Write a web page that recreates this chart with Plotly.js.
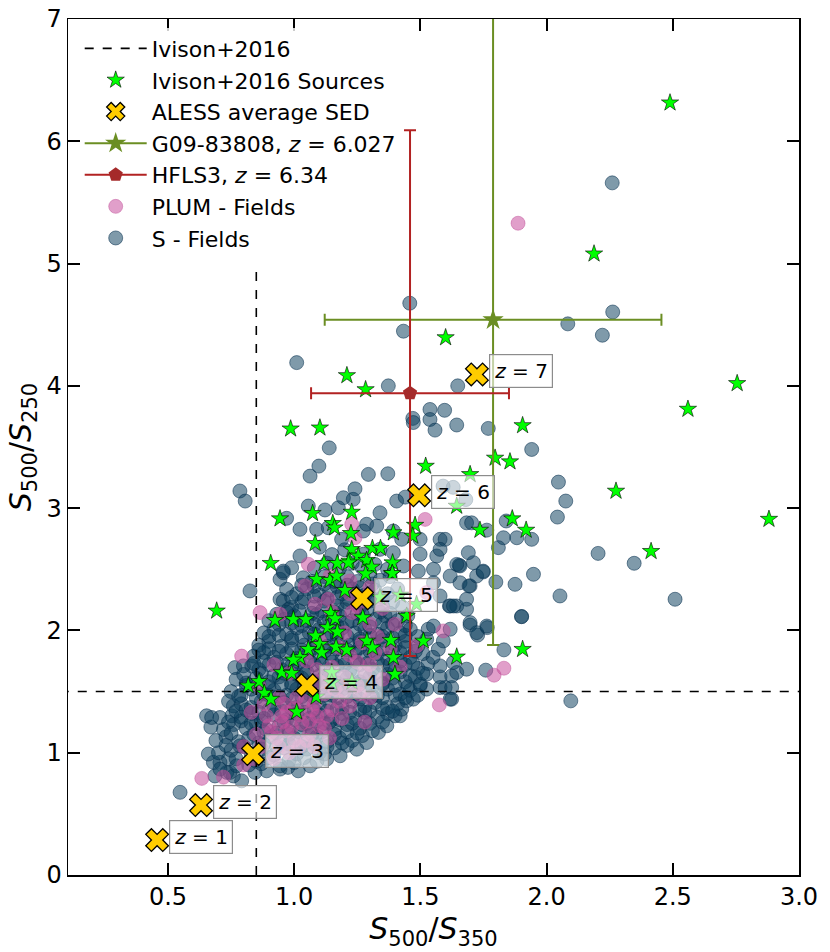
<!DOCTYPE html>
<html>
<head>
<meta charset="utf-8">
<script src="https://cdn.plot.ly/plotly-3.0.1.min.js"></script>
<style>html,body{margin:0;padding:0;background:#fff;}#chart{width:830px;height:952px;}</style>
</head>
<body>
<div id="chart"></div>
<script>
// ---------------- DATA ----------------
// Ivison+2016 colour cuts
const ivisonCutX = 0.85;      // S500/S350 threshold
const ivisonCutYmax = 5.0;    // vertical line top
const ivisonCutY = 1.5;       // S500/S250 threshold

// Ivison+2016 sources [S500/S350, S500/S250]
const ivisonSources = [
 [2.489,6.315],[2.188,5.08],[2.755,4.02],[2.56,3.81],[2.275,3.14],[2.414,2.647],[2.881,2.91],
 [1.905,3.676],[1.796,3.41],[1.855,3.38],[1.60,4.395],[1.209,4.085],[1.283,3.97],[0.986,3.649],
 [1.102,3.657],[1.521,3.344],[1.697,3.276],[1.644,3.017],[0.944,2.914],[1.073,2.958],[1.228,2.968],
 [1.153,2.876],[1.16,2.84],[1.225,2.794],[1.393,2.80],[1.479,2.861],[1.470,2.772],[1.736,2.821],
 [1.864,2.914],[1.919,2.821],[0.907,2.549],[1.083,2.712],[1.228,2.663],[1.310,2.672],[1.342,2.672],
 [1.118,2.549],[1.171,2.549],[1.219,2.568],[1.254,2.609],[1.287,2.574],[1.307,2.519],[1.283,2.464],
 [1.390,2.554],[1.388,2.464],[0.693,2.16],[1.905,1.846],[1.512,1.914],[1.446,2.118],[1.201,2.328],
 [1.644,1.784],[0.924,2.083],[0.997,2.09],[1.046,2.09],[1.133,2.024],[1.145,2.14],[1.162,2.097],
 [1.171,1.988],[1.085,1.955],[1.102,1.887],[1.056,1.846],[1.109,1.819],[1.166,1.865],[1.208,1.841],
 [1.023,1.779],[0.997,1.759],[0.951,1.656],[0.990,1.65],[0.861,1.583],[0.818,1.547],[0.882,1.487],
 [0.908,1.438],[1.010,1.334],[1.087,1.457],[1.149,1.656],[1.229,1.579],[1.272,2.105],[1.288,1.914],
 [1.310,1.859],[1.383,1.92],[1.393,1.779],[1.399,1.642],[1.089,2.418],[1.142,2.41],[1.168,2.445],
 [1.215,2.554],[1.34,2.27],[1.42,2.29],[1.485,2.214],[1.149,1.573],[1.389,2.467]
];

// ALESS average SED tracks
const alessZ = [1,2,3,4,5,6,7];
const alessX = [0.457,0.631,0.837,1.051,1.269,1.495,1.724];
const alessY = [0.286,0.572,0.989,1.552,2.263,3.105,4.093];

// G09-83808 (z = 6.027)
const g09 = {x:1.788, y:4.54, xerr:0.667, yerr:2.66};
// HFLS3 (z = 6.34)
const hfls3 = {x:1.459, y:3.94, xerr:0.392, yerr:2.15};

// PLUM fields
const plumFields = [
 [0.93,1.12],[0.97,1.18],[1.00,1.10],[1.03,1.24],[1.06,1.15],[1.09,1.30],[0.95,1.30],[1.00,1.36],
 [1.12,1.20],[1.15,1.35],[0.90,1.22],[1.04,1.42],[0.98,1.00],[1.08,1.05],[0.88,1.40],[1.18,1.42],
 [1.12,1.48],[1.02,1.05],[0.96,1.40],[1.07,1.35],[0.94,1.05],[1.10,1.58],[1.20,1.62],[1.25,1.55],
 [1.30,1.45],[1.15,1.70],[1.22,1.80],[1.30,1.72],[1.35,1.60],[1.05,1.75],[0.98,1.65],[0.92,1.72],
 [1.27,1.90],[1.33,1.95],[1.38,1.85],[1.20,1.98],[1.10,1.92],[1.15,2.15],[1.25,2.20],[1.35,2.18],
 [1.30,2.35],[1.221,2.405],[1.142,2.445],[1.043,2.364],[1.056,2.541],[1.083,2.214],[1.135,2.255],
 [1.228,2.146],[0.944,2.132],[0.865,2.146],[1.228,2.868],[1.241,2.758],[1.40,2.05],[1.525,2.31],
 [0.634,0.79],[0.72,0.80],[0.80,0.90],[0.84,0.95],[0.80,1.05],[0.85,1.15],[0.792,1.79],[0.83,1.33],
 [1.887,5.33],[1.519,2.908],[1.591,1.996],[1.575,1.391],[1.792,1.634],[1.831,1.691],[1.485,1.873],
 [1.42,1.70],[1.28,1.25],[0.86,1.55],[1.16,1.52],
 [0.91,1.17],[0.95,1.25],[0.99,1.21],[1.02,1.31],[1.06,1.26],[1.10,1.22],[1.13,1.30],[0.97,1.33],
 [1.01,1.45],[1.08,1.40],[0.94,1.45],[0.89,1.30],[1.05,1.10],[1.14,1.12],[1.19,1.28],[1.22,1.38],
 [1.26,1.48],[1.14,1.62],[1.20,1.50],[1.28,1.66],[1.09,1.68],[1.18,1.86],[1.25,1.74],[1.32,1.82],
 [1.30,2.05],[1.22,2.30],[0.87,1.05],[0.92,0.95]
];

// S fields
const sFields = [
 [0.548,0.676],
 [0.686,0.81],[0.733,0.839],[0.759,0.81],[0.792,0.77],[0.746,0.839],[0.845,0.839],[0.891,0.852],[0.944,0.866],[1.016,0.852],[0.975,0.88],
 [0.706,0.921],[0.680,0.921],[0.706,0.866],[0.772,0.893],[0.82,0.90],[0.87,0.91],[0.944,0.893],[1.063,0.893],[1.00,0.92],[1.129,0.948],[1.09,0.93],[0.74,0.95],
 [0.660,0.989],[0.70,1.00],[0.75,1.02],[0.785,1.056],[0.83,0.99],[0.87,1.03],[0.92,0.98],[0.96,1.04],[1.01,0.99],[1.05,1.03],[1.10,1.00],[1.182,0.975],[1.16,1.04],[1.248,1.029],[1.21,1.06],
 [0.69,1.10],[0.73,1.13],[0.78,1.09],[0.82,1.12],[0.86,1.08],[0.91,1.13],[0.95,1.09],[1.00,1.12],[1.04,1.08],[1.09,1.13],[1.13,1.09],[1.18,1.12],[1.23,1.10],[1.287,1.083],[1.27,1.14],
 [0.67,1.21],[0.72,1.19],[0.76,1.23],[0.81,1.20],[0.85,1.24],[0.89,1.19],[0.94,1.22],[0.98,1.18],[1.03,1.23],[1.07,1.20],[1.12,1.24],[1.16,1.19],[1.21,1.23],[1.26,1.20],[1.30,1.24],[1.334,1.166],[1.367,1.22],
 [0.653,1.302],[0.706,1.288],[0.673,1.288],[0.753,1.302],[0.79,1.29],[0.83,1.32],[0.88,1.28],[0.92,1.31],[0.97,1.27],[1.01,1.32],[1.06,1.28],[1.10,1.31],[1.15,1.27],[1.19,1.32],[1.24,1.28],[1.28,1.33],[1.33,1.29],[1.37,1.32],[1.400,1.302],[1.420,1.302],
 [0.759,1.383],[0.74,1.42],[0.79,1.40],[0.83,1.37],[0.87,1.42],[0.92,1.38],[0.96,1.41],[1.01,1.37],[1.05,1.42],[1.10,1.38],[1.14,1.41],[1.19,1.37],[1.23,1.42],[1.28,1.38],[1.32,1.41],[1.37,1.37],[1.41,1.40],[1.426,1.356],[1.446,1.424],[1.472,1.438],
 [0.75,1.50],[0.79,1.47],[0.83,1.52],[0.88,1.48],[0.92,1.51],[0.97,1.47],[1.01,1.52],[1.06,1.48],[1.10,1.51],[1.15,1.47],[1.19,1.52],[1.24,1.48],[1.28,1.51],[1.33,1.47],[1.37,1.52],[1.42,1.48],[1.46,1.51],[1.499,1.547],[1.525,1.52],[1.578,1.533],[1.598,1.533],[1.624,1.533],[1.624,1.438],[1.618,1.438],
 [0.77,1.60],[0.81,1.57],[0.85,1.61],[0.90,1.58],[0.94,1.62],[0.99,1.57],[1.03,1.61],[1.08,1.58],[1.12,1.62],[1.17,1.57],[1.21,1.61],[1.26,1.58],[1.30,1.62],[1.35,1.57],[1.39,1.61],[1.44,1.58],[1.48,1.62],[1.525,1.642],[1.578,1.62],[1.624,1.628],[1.644,1.656],
 [0.765,1.696],[0.799,1.71],[0.832,1.71],[0.86,1.68],[0.90,1.72],[0.95,1.68],[0.99,1.71],[1.04,1.67],[1.08,1.72],[1.13,1.68],[1.17,1.71],[1.22,1.67],[1.26,1.72],[1.31,1.68],[1.35,1.71],[1.40,1.67],[1.44,1.72],[1.49,1.69],[1.53,1.73],[1.578,1.71],[1.631,1.738],[1.683,1.683],[1.759,1.675],
 [0.84,1.79],[0.88,1.82],[0.92,1.78],[0.97,1.81],[1.01,1.77],[1.06,1.82],[1.10,1.78],[1.15,1.81],[1.19,1.77],[1.24,1.82],[1.28,1.78],[1.33,1.81],[1.37,1.77],[1.42,1.82],[1.46,1.78],[1.51,1.81],[1.55,1.78],
 [0.86,1.88],[0.90,1.91],[0.95,1.87],[0.99,1.92],[1.04,1.88],[1.08,1.91],[1.13,1.87],[1.17,1.92],[1.22,1.88],[1.26,1.91],[1.31,1.87],[1.35,1.92],[1.40,1.88],[1.44,1.91],[1.49,1.87],[1.525,1.928],[1.571,1.846],[1.591,1.914],[1.831,1.841],
 [0.88,1.98],[0.92,2.01],[0.97,1.97],[1.01,2.02],[1.06,1.98],[1.10,2.01],[1.15,1.97],[1.19,2.02],[1.24,1.98],[1.28,2.01],[1.33,1.97],[1.37,2.02],[1.42,1.98],[1.46,2.01],[1.531,2.01],[1.552,2.036],[1.618,2.01],[1.697,2.044],[1.727,1.962],[1.765,2.023],[1.723,1.982],[1.763,2.036],
 [0.90,2.08],[0.931,2.132],[0.977,2.173],[0.96,2.09],[1.00,2.12],[1.05,2.08],[1.09,2.13],[1.14,2.09],[1.18,2.12],[1.23,2.08],[1.27,2.13],[1.32,2.09],[1.36,2.12],[1.41,2.08],[1.45,2.12],[1.697,2.064],[1.901,2.113],[1.644,2.2],[1.615,2.2],[1.683,2.173],
 [0.944,2.255],[0.957,2.241],[0.99,2.19],[1.03,2.23],[1.08,2.19],[1.12,2.24],[1.17,2.20],[1.21,2.23],[1.26,2.19],[1.30,2.24],[1.35,2.20],[1.39,2.23],[1.43,2.19],[1.618,2.2],[1.683,2.255],[1.578,2.282],
 [0.825,2.323],[0.970,2.337],[1.01,2.30],[1.05,2.34],[1.10,2.29],[1.14,2.33],[1.19,2.30],[1.23,2.34],[1.28,2.29],[1.32,2.33],[1.37,2.30],[1.41,2.34],[1.552,2.39],[1.657,2.39],[1.697,2.364],[1.693,2.364],
 [0.944,2.418],[0.957,2.472],[1.036,2.431],[1.07,2.40],[1.12,2.44],[1.16,2.40],[1.21,2.44],[1.25,2.40],[1.30,2.44],[1.34,2.41],[1.38,2.44],[1.618,2.445],[1.723,2.445],[1.749,2.478],[1.654,2.533],
 [0.990,2.513],[1.08,2.51],[1.13,2.55],[1.18,2.51],[1.23,2.55],[1.27,2.51],[1.32,2.54],[1.37,2.50],[1.433,2.527],[1.492,2.485],[1.552,2.5],[1.657,2.527],[1.710,2.554],
 [1.023,2.609],[1.274,2.623],[1.340,2.663],[1.393,2.636],[1.499,2.623],[1.565,2.609],[1.690,2.636],[1.15,2.62],[1.20,2.66],[1.10,2.68],[0.957,2.485],
 [1.426,2.745],[1.499,2.745],[1.578,2.745],[1.188,2.745],[1.089,2.827],[1.023,2.827],[1.135,2.84],[1.274,2.813],[1.287,2.868],[1.327,2.853],[1.393,2.813],
 [0.970,2.917],[1.122,2.985],[1.175,3.003],[1.056,3.017],[1.340,2.962],[1.406,3.058],[1.234,3.072],[1.195,3.085],[1.241,3.158],[0.785,3.14],[0.806,3.058],
 [1.063,3.262],[1.098,3.344],[1.139,3.493],[1.294,3.276],[1.371,3.281],[1.44,3.09],[1.59,3.18],[1.63,3.17],[1.68,3.07],
 [1.683,2.88],[1.703,2.88],[1.763,2.82],[1.829,2.758],[1.882,2.758],[1.941,2.745],[1.840,2.895],[1.809,2.677],[1.948,2.459],[1.875,2.377],
 [1.799,2.396],[2.053,2.282],[1.749,2.485],[1.644,2.54],[1.598,2.745],[1.578,2.663],[1.631,2.2],[2.047,3.213],[2.076,3.058],[2.043,2.927],
 [1.941,3.48],[2.096,1.424],[1.901,2.113],
 [1.010,4.19],[1.373,4.0],[1.648,4.0],[1.538,3.807],[1.596,3.80],[1.470,3.734],[1.538,3.725],[1.472,3.70],[1.558,3.638],[1.644,3.68],
 [1.769,3.652],[1.458,4.676],[1.433,4.447],[2.084,4.507],[2.262,4.604],[2.221,4.414],[2.260,5.66],[2.509,2.255],[2.347,2.549],[2.204,2.63],
 // dense core, second pass
 [0.77,0.95],[0.85,0.93],[0.90,0.96],[0.98,0.94],[1.04,0.96],[1.12,0.99],
 [0.73,1.06],[0.80,1.05],[0.88,1.07],[0.93,1.05],[0.98,1.07],[1.03,1.05],[1.08,1.07],[1.13,1.05],[1.19,1.08],
 [0.75,1.16],[0.84,1.15],[0.88,1.17],[0.93,1.16],[0.98,1.15],[1.02,1.17],[1.07,1.15],[1.11,1.17],[1.16,1.15],[1.21,1.17],[1.25,1.16],[1.31,1.18],
 [0.74,1.25],[0.79,1.26],[0.83,1.24],[0.87,1.26],[0.96,1.25],[1.00,1.27],[1.05,1.24],[1.09,1.26],[1.14,1.25],[1.18,1.27],[1.23,1.24],[1.28,1.26],[1.35,1.25],
 [0.77,1.34],[0.81,1.35],[0.86,1.33],[0.90,1.35],[0.95,1.34],[0.99,1.36],[1.04,1.33],[1.08,1.35],[1.13,1.34],[1.17,1.36],[1.22,1.33],[1.26,1.35],[1.30,1.34],[1.35,1.36],[1.39,1.34],
 [0.78,1.46],[0.85,1.45],[0.90,1.47],[0.94,1.46],[0.99,1.44],[1.03,1.46],[1.08,1.45],[1.12,1.47],[1.17,1.45],[1.21,1.46],[1.26,1.44],[1.31,1.46],[1.35,1.45],[1.40,1.47],[1.44,1.45],[1.49,1.47],
 [0.81,1.55],[0.86,1.56],[0.90,1.54],[0.95,1.56],[0.99,1.55],[1.04,1.54],[1.08,1.56],[1.13,1.55],[1.17,1.53],[1.22,1.55],[1.26,1.56],[1.31,1.54],[1.35,1.56],[1.40,1.55],[1.45,1.54],[1.50,1.56],
 [0.80,1.64],[0.87,1.65],[0.92,1.63],[0.96,1.65],[1.01,1.64],[1.05,1.66],[1.10,1.63],[1.14,1.65],[1.19,1.64],[1.23,1.66],[1.28,1.63],[1.32,1.65],[1.37,1.64],[1.42,1.66],[1.46,1.63],[1.51,1.65],
 [0.84,1.73],[0.88,1.75],[0.93,1.74],[0.97,1.72],[1.02,1.74],[1.06,1.75],[1.11,1.73],[1.15,1.74],[1.20,1.72],[1.24,1.75],[1.29,1.73],[1.33,1.74],[1.38,1.72],[1.42,1.75],[1.47,1.73],
 [0.86,1.84],[0.90,1.85],[0.94,1.83],[0.99,1.85],[1.03,1.84],[1.08,1.86],[1.12,1.83],[1.17,1.85],[1.21,1.84],[1.26,1.86],[1.30,1.83],[1.35,1.85],[1.39,1.84],[1.44,1.86],[1.48,1.83],
 [0.90,1.95],[0.94,1.96],[0.99,1.94],[1.03,1.95],[1.08,1.97],[1.12,1.94],[1.17,1.96],[1.21,1.95],[1.26,1.93],[1.30,1.96],[1.35,1.95],[1.39,1.94],[1.44,1.96],[1.49,1.95],
 [0.94,2.05],[0.99,2.06],[1.03,2.04],[1.08,2.05],[1.12,2.07],[1.17,2.04],[1.21,2.06],[1.26,2.05],[1.30,2.03],[1.35,2.06],[1.39,2.05],[1.44,2.04],
 [0.97,2.15],[1.02,2.16],[1.07,2.14],[1.11,2.16],[1.16,2.15],[1.20,2.17],[1.25,2.14],[1.29,2.16],[1.34,2.15],[1.38,2.14],
 [0.99,2.27],[1.04,2.26],[1.08,2.28],[1.13,2.26],[1.17,2.27],[1.22,2.25],[1.26,2.28],[1.31,2.26],[1.35,2.27],
 [1.03,2.37],[1.08,2.36],[1.12,2.38],[1.17,2.36],[1.21,2.37],[1.26,2.35],[1.31,2.38]
];

// Tick labels
const xTickVals = [0.5,1.0,1.5,2.0,2.5,3.0];
const xTickText = ['0.5','1.0','1.5','2.0','2.5','3.0'];
const yTickVals = [0,1,2,3,4,5,6,7];
const yTickText = ['0','1','2','3','4','5','6','7'];

// ---------------- PLOT ----------------
const FONT = 'DejaVu Sans, sans-serif';
const col = (arr,i) => arr.map(p => p[i]);

const traces = [
 {name:'S - Fields', type:'scatter', mode:'markers', x:col(sFields,0), y:col(sFields,1), legendrank:7,
  marker:{size:14, color:'rgba(10,61,92,0.52)', line:{color:'rgba(10,50,80,0.55)', width:1}}},
 {name:'PLUM - Fields', type:'scatter', mode:'markers', x:col(plumFields,0), y:col(plumFields,1), legendrank:6,
  marker:{size:14, color:'rgba(200,80,158,0.55)', line:{color:'rgba(190,80,150,0.45)', width:1}}},
 {name:'Ivison+2016', type:'scatter', mode:'lines', legendrank:1,
  x:[ivisonCutX, ivisonCutX, null, 0, 3.5], y:[0, ivisonCutYmax, null, ivisonCutY, ivisonCutY],
  line:{color:'black', width:1.6, dash:'dash'}},
 {name:'Ivison+2016 Sources', type:'scatter', mode:'markers', x:col(ivisonSources,0), y:col(ivisonSources,1), legendrank:2,
  marker:{symbol:'star', size:13, color:'#00ff00', line:{color:'black', width:0.6}}},
 {name:'G09-83808, <i>z</i> = 6.027', type:'scatter', mode:'lines+markers', x:[g09.x], y:[g09.y], legendrank:4,
  line:{color:'#6b8e23', width:2},
  marker:{symbol:'star', size:16, color:'#6b8e23'},
  error_x:{type:'constant', value:g09.xerr, color:'#6b8e23', thickness:2, width:6},
  error_y:{type:'constant', value:g09.yerr, color:'#6b8e23', thickness:2, width:6}},
 {name:'HFLS3, <i>z</i> = 6.34', type:'scatter', mode:'lines+markers', x:[hfls3.x], y:[hfls3.y], legendrank:5,
  line:{color:'#b22222', width:2},
  marker:{symbol:'pentagon', size:15, color:'#a52a2a'},
  error_x:{type:'constant', value:hfls3.xerr, color:'#b22222', thickness:2, width:6},
  error_y:{type:'constant', value:hfls3.yerr, color:'#b22222', thickness:2, width:6}},
 {name:'ALESS average SED', type:'scatter', mode:'markers', x:alessX, y:alessY, legendrank:3,
  marker:{symbol:'x', size:20, color:'#ffcc00', line:{color:'black', width:1.3}}}
];

const annotations = alessZ.map((z,i) => ({
  x: alessX[i], y: alessY[i], xref:'x', yref:'y', showarrow:false,
  xanchor:'left', yanchor:'middle', xshift:12, yshift:3,
  text:'<i>z</i> = ' + z,
  font:{family:FONT, size:20, color:'black'},
  bgcolor:'rgba(255,255,255,0.6)', bordercolor:'#8c8c8c', borderwidth:1.2, borderpad:4
}));

const axisCommon = {
  showgrid:false, zeroline:false, showline:true, linecolor:'black', linewidth:1.5,
  mirror:'ticks', ticks:'inside', ticklen:12, tickwidth:2, tickcolor:'black',
  tickfont:{family:FONT, size:24, color:'black'}
};

const layout = {
  width:830, height:952,
  margin:{l:68, r:31, t:19, b:77},
  paper_bgcolor:'white', plot_bgcolor:'white',
  font:{family:FONT, color:'black'},
  showlegend:true,
  legend:{x:0.016, y:0.99, xanchor:'left', yanchor:'top', bgcolor:'rgba(255,255,255,0.8)',
          font:{family:FONT, size:22, color:'black'}, itemwidth:62, tracegroupgap:0, itemsizing:'trace'},
  xaxis:Object.assign({}, axisCommon, {range:[0.104,3.0], tickvals:xTickVals, ticktext:xTickText,
     title:{text:'<i>S</i><sub>500</sub>/<i>S</i><sub>350</sub>', font:{family:FONT, size:30}, standoff:0}}),
  yaxis:Object.assign({}, axisCommon, {range:[0,7], tickvals:yTickVals, ticktext:yTickText,
     title:{text:'<i>S</i><sub>500</sub>/<i>S</i><sub>250</sub>', font:{family:FONT, size:30}, standoff:6}}),
  annotations:annotations
};

Plotly.newPlot('chart', traces, layout, {displayModeBar:false, staticPlot:true});
</script>
</body>
</html>
